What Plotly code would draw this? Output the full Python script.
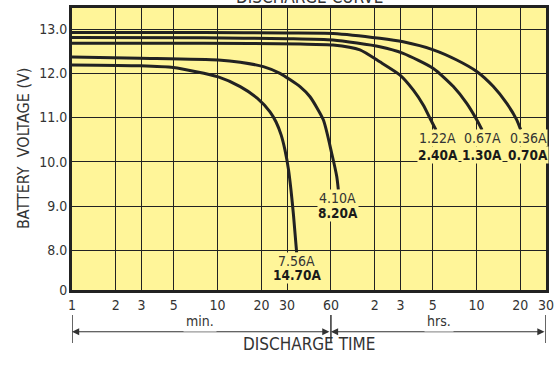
import math
import plotly.graph_objects as go

# ---- data (time in minutes, voltage in V) ----
t_036 = [1, 8, 30, 62, 130, 188, 303, 439, 602, 783, 968, 1133, 1205]
v_036 = [12.92, 12.92, 12.91, 12.90, 12.79, 12.71, 12.53, 12.30, 12.04, 11.70, 11.32, 10.95, 10.73]

t_067 = [1, 8, 30, 62, 130, 188, 303, 416, 514, 602, 655]
v_067 = [12.81, 12.80, 12.78, 12.75, 12.60, 12.45, 12.11, 11.70, 11.32, 10.95, 10.72]

t_122 = [1, 8, 37, 62, 95, 130, 179, 221, 259, 288, 316]
v_122 = [12.68, 12.68, 12.66, 12.64, 12.53, 12.26, 11.96, 11.62, 11.28, 10.98, 10.72]

t_410 = [1, 2.93, 10.1, 14.3, 20.6, 26.8, 36.8, 43.1, 53.2, 60.8, 65.8, 67.5]
v_410 = [12.37, 12.34, 12.30, 12.25, 12.15, 12.00, 11.70, 11.47, 10.95, 10.19, 9.67, 9.37]

t_756 = [1, 2.93, 4.96, 10.1, 14.3, 18.7, 22.9, 25.2, 27.3, 29.0, 30.7, 31.9, 33.2, 34.9]
v_756 = [12.19, 12.17, 12.13, 11.92, 11.70, 11.44, 11.13, 10.90, 10.61, 10.27, 9.82, 9.37, 8.80, 7.95]

series = [
    (t_036, v_036), (t_067, v_067), (t_122, v_122), (t_410, v_410), (t_756, v_756)
]

# curve labels
label_t = [1356, 655, 324, 66.6, 34.9]
label_v1 = [10.53, 10.53, 10.53, 9.18, 7.77]
label_v2 = [10.16, 10.16, 10.16, 8.84, 7.45]
label_a = ["0.36A", "0.67A", "1.22A", "4.10A", "7.56A"]
label_b = ["0.70A", "1.30A", "2.40A", "8.20A", "14.70A"]

x_tickvals = [1, 2, 3, 5, 10, 20, 30, 60, 120, 180, 300, 600, 1200, 1800]
x_ticktext = ["1", "2", "3", "5", "10", "20", "30", "60", "2", "3", "5", "10", "20", "30"]

y_min, y_max = 7.108, 13.474
y_tickvals = [y_min, 8, 9, 10, 11, 12, 13]
y_ticktext = ["0", "8.0", "9.0", "10.0", "11.0", "12.0", "13.0"]

FONT = "DejaVu Sans Condensed, Liberation Sans Narrow, sans-serif"
YELLOW = "#FFF599"
INK = "#222222"
TXT = "#333333"

fig = go.Figure()
for t, v in series:
    fig.add_trace(go.Scatter(
        x=t, y=v, mode="lines",
        line=dict(color=INK, width=3, shape="spline", smoothing=0.6),
        hoverinfo="skip", showlegend=False,
    ))

ann = []
for t, v1, v2, a, b in zip(label_t, label_v1, label_v2, label_a, label_b):
    ann.append(dict(x=math.log10(t), y=v1, xref="x", yref="y", text=a,
                    showarrow=False, font=dict(family=FONT, size=14, color=TXT),
                    bgcolor=YELLOW, borderpad=0))
    ann.append(dict(x=math.log10(t), y=v2, xref="x", yref="y", text="<b>" + b + "</b>",
                    showarrow=False, font=dict(family=FONT, size=13.5, color="#1a1a1a"),
                    bgcolor=YELLOW, borderpad=0))

# axis titles and chart title
ann.append(dict(x=0.5, y=1.0, yanchor="middle", yshift=11, xref="paper", yref="paper",
                text="DISCHARGE CURVE", showarrow=False,
                font=dict(family=FONT, size=17, color=TXT)))
ann.append(dict(x=0.5, y=-0.234, xref="paper", yref="paper", text="DISCHARGE TIME",
                showarrow=False, font=dict(family=FONT, size=17, color=TXT)))
ann.append(dict(x=0, y=0.5, xref="paper", yref="paper", text="BATTERY  VOLTAGE (V)",
                textangle=-90, xanchor="center", yanchor="middle", xshift=-49,
                showarrow=False, font=dict(family=FONT, size=16, color=TXT)))

# min. / hrs. span arrows
y_arrow = -0.148
spans = [(1, 60), (60, 1800)]
for a0, a1 in spans:
    ann.append(dict(x=math.log10(a0), y=y_arrow, xref="x", yref="paper",
                    ax=math.log10(a1), ay=0, axref="x", ayref="pixel",
                    text="", showarrow=True, arrowside="end+start", arrowhead=2,
                    arrowsize=1.2, arrowwidth=1.2, arrowcolor=TXT,
                    standoff=0, startstandoff=0))
ann.append(dict(x=math.log10(7.57), y=y_arrow, xref="x", yref="paper", text="min.",
                showarrow=False, bgcolor="white", borderpad=2,
                font=dict(family=FONT, size=14, color=TXT)))
ann.append(dict(x=math.log10(331), y=y_arrow, xref="x", yref="paper", text="hrs.",
                showarrow=False, bgcolor="white", borderpad=2,
                font=dict(family=FONT, size=14, color=TXT)))

shapes = []
for xv in [1, 60, 1800]:
    shapes.append(dict(type="line", xref="x", yref="paper", x0=xv, x1=xv,
                       y0=-0.0887, y1=-0.188, line=dict(color=TXT, width=1.5)))

fig.update_layout(
    width=559, height=366,
    margin=dict(l=72, r=13, t=8, b=76, autoexpand=False),
    paper_bgcolor="white", plot_bgcolor=YELLOW,
    annotations=ann, shapes=shapes,
    font=dict(family=FONT, color=TXT),
)
fig.update_xaxes(
    type="log", range=[0, math.log10(1800)], automargin=False,
    tickvals=x_tickvals, ticktext=x_ticktext, ticks="",
    tickfont=dict(family=FONT, size=14, color=TXT),
    showgrid=True, gridcolor=INK, gridwidth=1.3,
    showline=True, linecolor=INK, linewidth=3, mirror=True, zeroline=False,
)
fig.update_yaxes(
    range=[y_min, y_max], automargin=False,
    tickvals=y_tickvals, ticktext=y_ticktext, ticks="",
    ticklabelstandoff=-1,
    tickfont=dict(family=FONT, size=14, color=TXT),
    showgrid=True, gridcolor=INK, gridwidth=1.3,
    showline=True, linecolor=INK, linewidth=3, mirror=True, zeroline=False,
)

fig.write_html(
    "out.html",
    config={"displayModeBar": False},
    post_script="document.body.style.margin='0';document.body.style.overflow='hidden';",
)
